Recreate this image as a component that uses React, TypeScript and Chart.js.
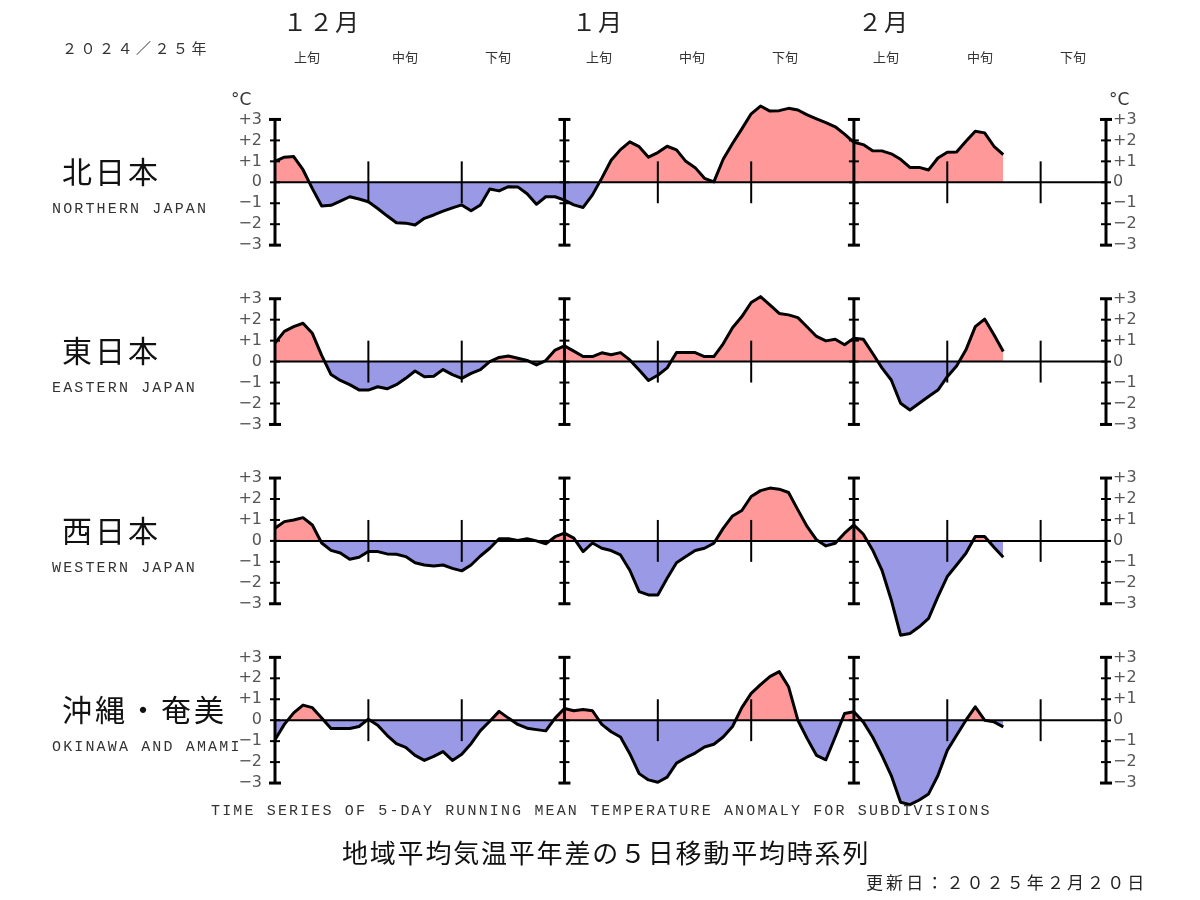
import React, { useEffect, useRef } from "react";
import { Chart, registerables } from "chart.js";

Chart.register(...registerables);

// ---- data ----
const MONTH_NAMES = ["12", "1", "2"];
const MONTH_DAYS = [31, 31, 28];
const DATE_LABELS: string[] = MONTH_NAMES.flatMap((m, i) =>
  Array.from({ length: MONTH_DAYS[i] }, (_, d) => `${m}/${d + 1}`)
);

const NORTH = [
  1.0, 1.2, 1.23, 0.6, -0.3, -1.13, -1.1, -0.9, -0.69, -0.8,
  -0.93, -1.25, -1.6, -1.93, -1.95, -2.04, -1.72, -1.56, -1.38, -1.22,
  -1.08, -1.36, -1.08, -0.32, -0.41, -0.21, -0.22, -0.55, -1.05, -0.69,
  -0.69, -0.85, -1.08, -1.2, -0.6, 0.2, 1.05, 1.56, 1.93, 1.7,
  1.2, 1.42, 1.72, 1.55, 1.0, 0.7, 0.19, 0.02, 1.1, 1.85,
  2.55, 3.27, 3.64, 3.4, 3.42, 3.53, 3.45, 3.22, 3.03, 2.85,
  2.65, 2.3, 1.91, 1.8, 1.51, 1.5, 1.36, 1.1, 0.71, 0.71,
  0.59, 1.16, 1.43, 1.45, 1.96, 2.44, 2.36, 1.72, 1.32,
];
const EAST = [
  0.88, 1.44, 1.67, 1.83, 1.35, 0.3, -0.62, -0.9, -1.1, -1.35,
  -1.36, -1.2, -1.3, -1.1, -0.8, -0.45, -0.72, -0.7, -0.38, -0.62,
  -0.8, -0.56, -0.38, 0.0, 0.2, 0.27, 0.16, 0.06, -0.16, 0.05,
  0.55, 0.75, 0.5, 0.24, 0.24, 0.42, 0.33, 0.43, 0.08, -0.4,
  -0.9, -0.65, -0.3, 0.43, 0.43, 0.43, 0.24, 0.24, 0.85, 1.62,
  2.15, 2.82, 3.1, 2.71, 2.3, 2.23, 2.1, 1.65, 1.2, 0.99,
  1.07, 0.8, 1.12, 1.07, 0.4, -0.3, -0.88, -1.99, -2.31, -1.99,
  -1.67, -1.36, -0.72, -0.21, 0.56, 1.67, 2.03, 1.28, 0.48,
];
const WEST = [
  0.6, 0.92, 1.0, 1.11, 0.76, -0.1, -0.45, -0.58, -0.88, -0.78,
  -0.51, -0.51, -0.62, -0.64, -0.75, -1.04, -1.15, -1.2, -1.15, -1.31,
  -1.43, -1.15, -0.72, -0.35, 0.1, 0.1, 0.02, 0.1, 0.0, -0.14,
  0.2, 0.37, 0.13, -0.51, -0.1, -0.35, -0.46, -0.67, -1.4, -2.42,
  -2.58, -2.58, -1.78, -1.04, -0.75, -0.46, -0.35, -0.11, 0.6, 1.19,
  1.45, 2.12, 2.4, 2.52, 2.47, 2.31, 1.48, 0.68, 0.05, -0.24,
  -0.11, 0.37, 0.76, 0.33, -0.43, -1.39, -2.82, -4.5, -4.42, -4.1,
  -3.7, -2.66, -1.7, -1.15, -0.59, 0.21, 0.21, -0.3, -0.78,
];
const OKINAWA = [
  -0.93, -0.2, 0.35, 0.72, 0.6, 0.1, -0.4, -0.4, -0.4, -0.3,
  0.05, -0.24, -0.72, -1.12, -1.3, -1.68, -1.92, -1.73, -1.5, -1.92,
  -1.63, -1.12, -0.5, -0.05, 0.42, 0.1, -0.2, -0.38, -0.45, -0.51,
  0.1, 0.56, 0.45, 0.51, 0.45, -0.2, -0.55, -0.8, -1.6, -2.55,
  -2.85, -2.96, -2.72, -2.05, -1.79, -1.57, -1.28, -1.15, -0.8, -0.3,
  0.6, 1.28, 1.7, 2.08, 2.32, 1.6, 0.0, -0.88, -1.68, -1.89,
  -0.8, 0.32, 0.4, -0.08, -0.8, -1.68, -2.64, -3.92, -4.03, -3.81,
  -3.52, -2.64, -1.44, -0.72, 0.0, 0.64, 0.0, -0.08, -0.32,
];

const SERIES = [NORTH, EAST, WEST, OKINAWA];
const REGION_JA = ["北日本", "東日本", "西日本", "沖縄・奄美"];
const REGION_EN = ["NORTHERN JAPAN", "EASTERN JAPAN", "WESTERN JAPAN", "OKINAWA AND AMAMI"];
const Y_TICKS = [3, 2, 1, 0, -1, -2, -3];
const Y_TICK_LABELS = ["+3", "+2", "+1", "0", "\u22121", "\u22122", "\u22123"];
const MONTH_TITLES = ["１２月", "１月", "２月"];
const DECADE_TITLES = ["上旬", "中旬", "下旬", "上旬", "中旬", "下旬", "上旬", "中旬", "下旬"];

// ---- layout ----
const W = 1200;
const H = 900;
const PLOT_TOP = 90;
const PLOT_BOTTOM = 820;
const PX_PER_UNIT = 20.95;
const ZERO_FIRST = 182.3;
const PANEL_STEP = 179.3;
const POS_COLOR = "#ff9999";
const NEG_COLOR = "#9999e6";

const MAJOR_IDX = [
  ...DATE_LABELS.map((l, i) => (l.endsWith("/1") ? i : -1)).filter((i) => i >= 0),
  DATE_LABELS.length - 1,
];
const MINOR_IDX = DATE_LABELS.map((l, i) => (l.endsWith("/11") || l.endsWith("/21") ? i : -1)).filter(
  (i) => i >= 0
);

const axesPlugin = {
  id: "panelAxes",
  afterDatasetsDraw(chart: any) {
    const ctx = chart.ctx as CanvasRenderingContext2D;
    const xs = chart.scales.x;
    const xl = xs.getPixelForValue(0);
    const xr = xs.getPixelForValue(DATE_LABELS.length - 1);
    ctx.save();
    ctx.strokeStyle = "#000";
    ctx.lineCap = "butt";
    SERIES.forEach((_, p) => {
      const ys = chart.scales["y" + p];
      const y0 = ys.getPixelForValue(0);
      const yTop = ys.getPixelForValue(3);
      const yBot = ys.getPixelForValue(-3);
      // zero line
      ctx.lineWidth = 2;
      ctx.beginPath();
      ctx.moveTo(xl, y0);
      ctx.lineTo(xr, y0);
      ctx.stroke();
      // minor decade ticks
      MINOR_IDX.forEach((i) => {
        const px = xs.getPixelForValue(i);
        ctx.lineWidth = 2;
        ctx.beginPath();
        ctx.moveTo(px, ys.getPixelForValue(1));
        ctx.lineTo(px, ys.getPixelForValue(-1));
        ctx.stroke();
      });
      // major month lines
      MAJOR_IDX.forEach((i) => {
        const px = xs.getPixelForValue(i);
        ctx.lineWidth = 3;
        ctx.beginPath();
        ctx.moveTo(px, yTop);
        ctx.lineTo(px, yBot);
        ctx.stroke();
        Y_TICKS.forEach((v) => {
          const py = ys.getPixelForValue(v);
          const half = Math.abs(v) === 3 ? 6 : 5;
          ctx.lineWidth = Math.abs(v) === 3 ? 3 : 2;
          ctx.beginPath();
          ctx.moveTo(px - half, py);
          ctx.lineTo(px + half, py);
          ctx.stroke();
        });
      });
      // tick labels
      ctx.fillStyle = "#555";
      ctx.font = "16px 'DejaVu Sans'";
      ctx.textBaseline = "middle";
      Y_TICKS.forEach((v, k) => {
        const py = ys.getPixelForValue(v);
        ctx.textAlign = "right";
        ctx.fillText(Y_TICK_LABELS[k], xl - 13, py);
        ctx.textAlign = "left";
        ctx.fillText(Y_TICK_LABELS[k], xr + 7, py);
      });
      if (p === 0) {
        ctx.fillStyle = "#333";
        ctx.font = "17px 'DejaVu Sans'";
        ctx.textAlign = "left";
        ctx.fillText("°C", xl - 44, yTop - 19);
        ctx.fillText("°C", xr + 3, yTop - 19);
      }
    });
    ctx.restore();
  },
};

type LabelProps = {
  x: number;
  y: number;
  text: string;
  size: number;
  font?: string;
  spacing?: number;
  color?: string;
  center?: boolean;
};

function Label({ x, y, text, size, font, spacing, color, center }: LabelProps) {
  return (
    <div
      style={{
        position: "absolute",
        left: x,
        top: y,
        transform: center ? "translate(-50%, -50%)" : "translateY(-50%)",
        fontSize: size,
        lineHeight: 1,
        fontFamily: font || "'Noto Sans CJK JP', sans-serif",
        letterSpacing: spacing || 0,
        color: color || "#111",
        whiteSpace: "nowrap",
      }}
    >
      {text}
    </div>
  );
}

export default function App() {
  const canvasRef = useRef<HTMLCanvasElement | null>(null);

  useEffect(() => {
    if (!canvasRef.current) return;
    const yScales: any = {};
    SERIES.forEach((_, p) => {
      const zero = ZERO_FIRST + PANEL_STEP * p;
      const max = (zero - PLOT_TOP) / PX_PER_UNIT;
      const min = max - (PLOT_BOTTOM - PLOT_TOP) / PX_PER_UNIT;
      yScales["y" + p] = { type: "linear", display: false, min, max };
    });
    const chart = new Chart(canvasRef.current, {
      type: "line",
      data: {
        labels: DATE_LABELS,
        datasets: SERIES.map((s, p) => ({
          label: REGION_EN[p],
          data: s,
          yAxisID: "y" + p,
          borderColor: "#000",
          borderWidth: 3,
          borderJoinStyle: "round",
          pointRadius: 0,
          tension: 0,
          fill: { target: "origin", above: POS_COLOR, below: NEG_COLOR },
        })),
      },
      options: {
        animation: false,
        responsive: false,
        devicePixelRatio: 1,
        events: [],
        layout: { padding: { left: 275, right: 94, top: PLOT_TOP, bottom: H - PLOT_BOTTOM } },
        plugins: { legend: { display: false }, tooltip: { enabled: false }, title: { display: false } },
        scales: {
          x: { type: "category", display: false, offset: false },
          ...yScales,
        },
      },
      plugins: [axesPlugin],
    } as any);
    return () => chart.destroy();
  }, []);

  const decadeX = [307, 405, 498, 599, 692, 785, 886, 980, 1073];
  const monthX = [283, 572, 858];

  return (
    <div style={{ position: "fixed", left: 0, top: 0, width: W, height: H, background: "#fff", overflow: "hidden" }}>
      <canvas ref={canvasRef} width={W} height={H} style={{ position: "absolute", left: 0, top: 0, display: "block" }} />
      <Label x={62} y={47} text="２０２４／２５年" size={15} spacing={3.5} color="#333" />
      {MONTH_TITLES.map((t, i) => (
        <Label key={t} x={monthX[i]} y={21} text={t} size={24} spacing={2} color="#222" />
      ))}
      {DECADE_TITLES.map((t, i) => (
        <Label key={i} x={decadeX[i]} y={56} text={t} size={13} center color="#333" />
      ))}
      {REGION_JA.map((t, p) => (
        <Label key={t} x={62} y={170 + PANEL_STEP * p} text={t} size={30} spacing={3} color="#111" />
      ))}
      {REGION_EN.map((t, p) => (
        <Label
          key={t}
          x={52}
          y={209 + PANEL_STEP * p}
          text={t}
          size={15}
          spacing={2.15}
          font="'Liberation Mono', monospace"
          color="#333"
        />
      ))}
      <Label
        x={211}
        y={811}
        text="TIME SERIES OF 5-DAY RUNNING MEAN TEMPERATURE ANOMALY FOR SUBDIVISIONS"
        size={15}
        spacing={2.15}
        font="'Liberation Mono', monospace"
        color="#333"
      />
      <Label x={342} y={852} text="地域平均気温平年差の５日移動平均時系列" size={26} spacing={1.8} color="#111" />
      <Label x={866} y={881} text="更新日：２０２５年２月２０日" size={17} spacing={3.1} color="#222" />
    </div>
  );
}
